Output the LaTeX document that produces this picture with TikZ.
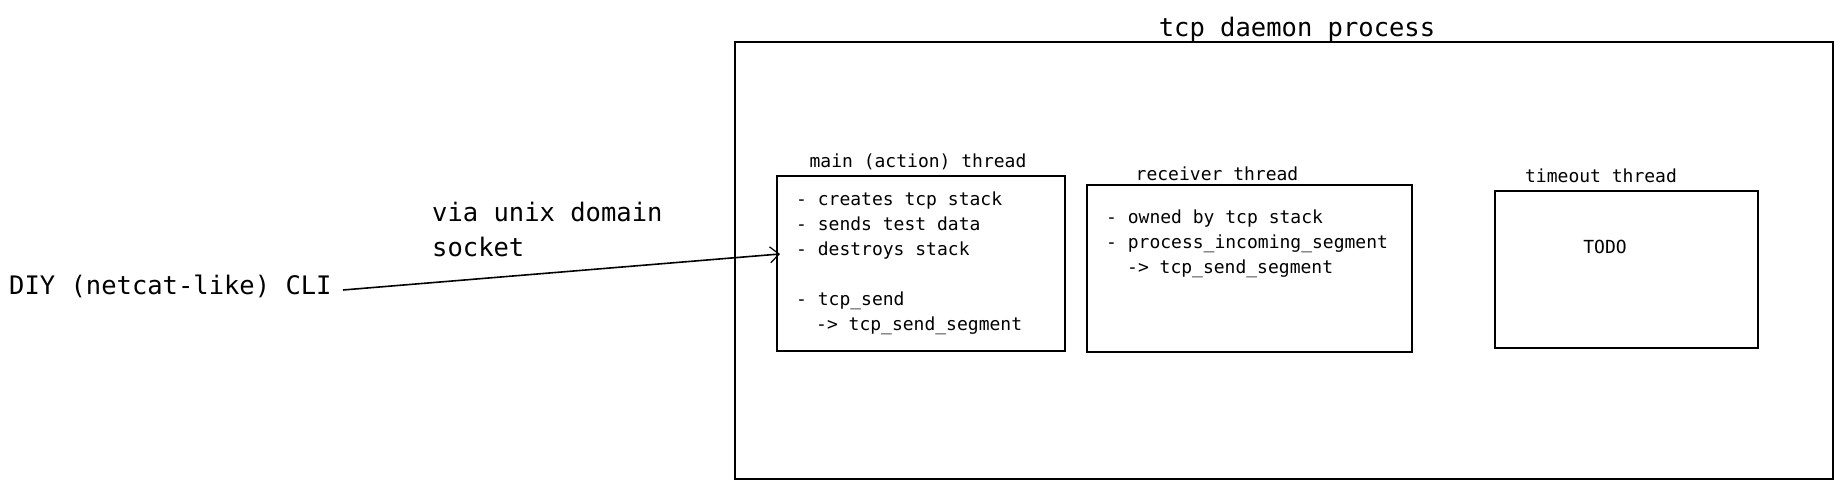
\documentclass[tikz,border=0pt]{standalone}
\usepackage{fontspec}
\setmonofont{DejaVu Sans Mono}
\usetikzlibrary{arrows.meta}
\tikzset{
  box/.style={draw=black, line width=1.2pt, rectangle, inner sep=0pt},
  small/.style={font=\ttfamily\fontsize{18}{22}\selectfont, inner sep=0pt, anchor=base west},
  big/.style={font=\ttfamily\fontsize{25.5}{30}\selectfont, inner sep=0pt},
  conn/.style={draw=black, line width=1.6pt, -{Straight Barb[length=9pt,width=16pt,line width=1.2pt]}}
}
\begin{document}
\begin{tikzpicture}[x=1pt,y=1pt]
\useasboundingbox (0,0) rectangle (1841,489);
% outer process box
\node[box, minimum width=1098pt, minimum height=437pt] (outer) at (1284,228.5) {};
\node[big, anchor=base] (title) at (1297,452.5) {tcp daemon process};
% thread boxes
\node[box, minimum width=288pt, minimum height=175pt] (mainbox) at (921,225.5) {};
\node[box, minimum width=325pt, minimum height=167pt] (recvbox) at (1249.5,220.5) {};
\node[box, minimum width=263pt, minimum height=157pt] (tobox) at (1626.5,219.5) {};
% labels
\node[small, anchor=base] (mainlbl) at (918,321) {main (action) thread};
\node[small, anchor=base] (recvlbl) at (1217,308.5) {receiver thread};
\node[small, anchor=base] (tolbl) at (1601,306.5) {timeout thread};
% main contents
\node[small] (m1) at (796,283.5) {- creates tcp stack};
\node[small] (m2) at (796,258.5) {- sends test data};
\node[small] (m3) at (796,233.5) {- destroys stack};
\node[small] (m4) at (796,183.5) {- tcp\_send};
\node[small] (m5) at (816,158.5) {-> tcp\_send\_segment};
% receiver contents
\node[small] (r1) at (1106,265.5) {- owned by tcp stack};
\node[small] (r2) at (1106,240.5) {- process\_incoming\_segment};
\node[small] (r3) at (1127,215.5) {-> tcp\_send\_segment};
% timeout contents
\node[small, anchor=base] (todo) at (1605,235) {TODO};
% CLI
\node[big, anchor=base west] (diy) at (9,194) {DIY (netcat-like) CLI};
\node[big, anchor=base west] (via1) at (432,267.5) {via unix domain};
\node[big, anchor=base west] (via2) at (432,232.5) {socket};
\coordinate (astart) at (343,199);
\coordinate (aend) at (780,235);
\draw[conn] (astart) -- (aend);
\end{tikzpicture}
\end{document}
